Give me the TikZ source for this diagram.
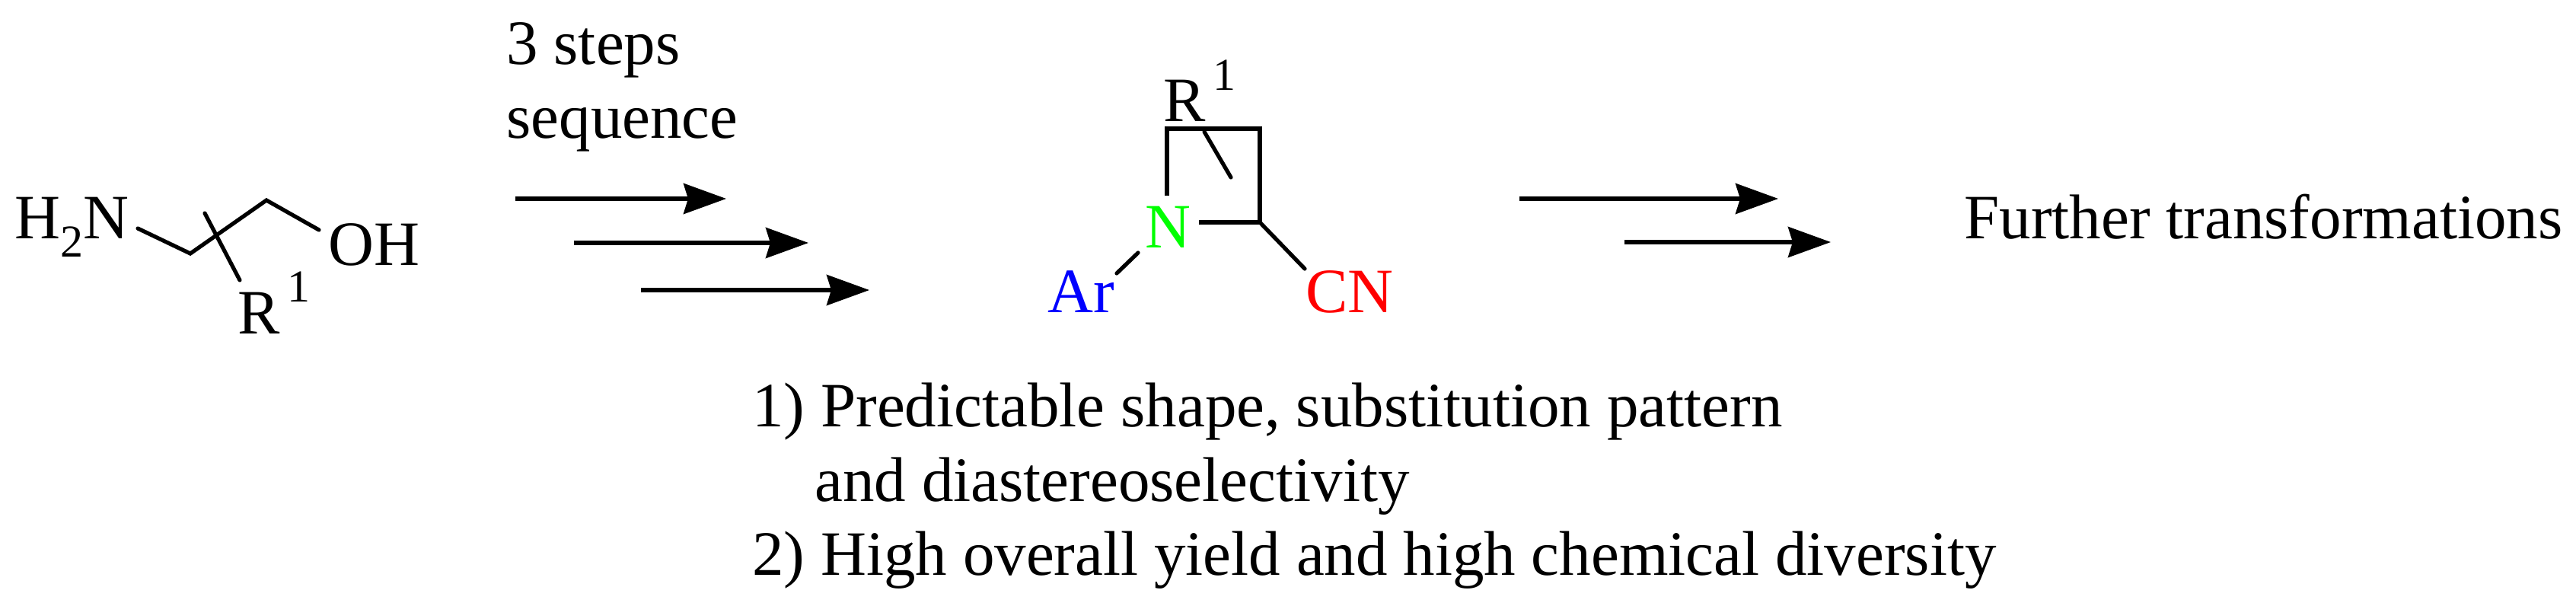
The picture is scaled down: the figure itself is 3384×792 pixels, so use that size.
\documentclass[tikz,border=0pt]{standalone}
\usepackage{fontspec}
\setmainfont{Liberation Serif}
\usetikzlibrary{arrows.meta}
\begin{document}
\begin{tikzpicture}[x=0.5pt,y=-0.5pt,
  txt/.style={anchor=base west,inner sep=0pt,font=\fontsize{41.5}{50}\selectfont},
  bond/.style={line width=2.6pt,line cap=round},
  rxn/.style={line width=2.6pt,-{Stealth[length=28pt,width=20pt,inset=3pt]}}]
\useasboundingbox (0,0) rectangle (3384,792);
% left molecule
\node[txt] (h2n) at (19,313) {H\raisebox{-0.3em}{\fontsize{30}{30}\selectfont 2}N};
\node[txt] (oh) at (431,348) {OH};
\node[txt] (r1a) at (312,438) {R\raisebox{0.5em}{\fontsize{30}{30}\selectfont\,1}};
\coordinate (a1) at (181,300); \coordinate (a2) at (250,333);
\coordinate (a3) at (350,263); \coordinate (a4) at (419,302);
\coordinate (c1) at (269,280); \coordinate (c2) at (315,368);
\draw[bond] (a1)--(a2)--(a3)--(a4);
\draw[bond] (c1)--(c2);
% first arrows
\node[txt] (s1) at (665,85) {3 steps};
\node[txt] (s2) at (665,182) {sequence};
\coordinate (p1) at (677,261); \coordinate (q1) at (954,261);
\coordinate (p2) at (754,319); \coordinate (q2) at (1062,319);
\coordinate (p3) at (842,381); \coordinate (q3) at (1142,381);
\draw[rxn] (p1)--(q1); \draw[rxn] (p2)--(q2); \draw[rxn] (p3)--(q3);
% azetidine
\node[txt] (r1b) at (1528,160) {R\raisebox{0.5em}{\fontsize{30}{30}\selectfont\,1}};
\node[txt,text={rgb,255:red,0;green,255;blue,0}] (n) at (1504,325) {N};
\node[txt,text={rgb,255:red,0;green,0;blue,255}] (ar) at (1376,410) {Ar};
\node[txt,text={rgb,255:red,255;green,0;blue,0}] (cn) at (1715,410) {CN};
\coordinate (b1) at (1533,257); \coordinate (b2) at (1533,169);
\coordinate (b3) at (1655,169); \coordinate (b4) at (1655,292);
\coordinate (b5) at (1575,292);
\coordinate (r1) at (1582,173); \coordinate (r2) at (1617,233);
\coordinate (ar1) at (1495,332); \coordinate (ar2) at (1467,359);
\coordinate (cn1) at (1714,353);
\draw[bond,line cap=butt] (b1)--(b2)--(b3)--(b4)--(b5);
\draw[bond] (r1)--(r2);
\draw[bond] (ar1)--(ar2);
\draw[bond] (b4)--(cn1);
% second arrows
\coordinate (p4) at (1996,261); \coordinate (q4) at (2336,261);
\coordinate (p5) at (2134,318); \coordinate (q5) at (2405,318);
\draw[rxn] (p4)--(q4); \draw[rxn] (p5)--(q5);
\node[txt] (ft) at (2580,313) {Further transformations};
% bottom text
\node[txt] (l1) at (988,560) {1) Predictable shape, substitution pattern};
\node[txt] (l2) at (1070,658) {and diastereoselectivity};
\node[txt] (l3) at (988,755) {2) High overall yield and high chemical diversity};
\end{tikzpicture}
\end{document}
